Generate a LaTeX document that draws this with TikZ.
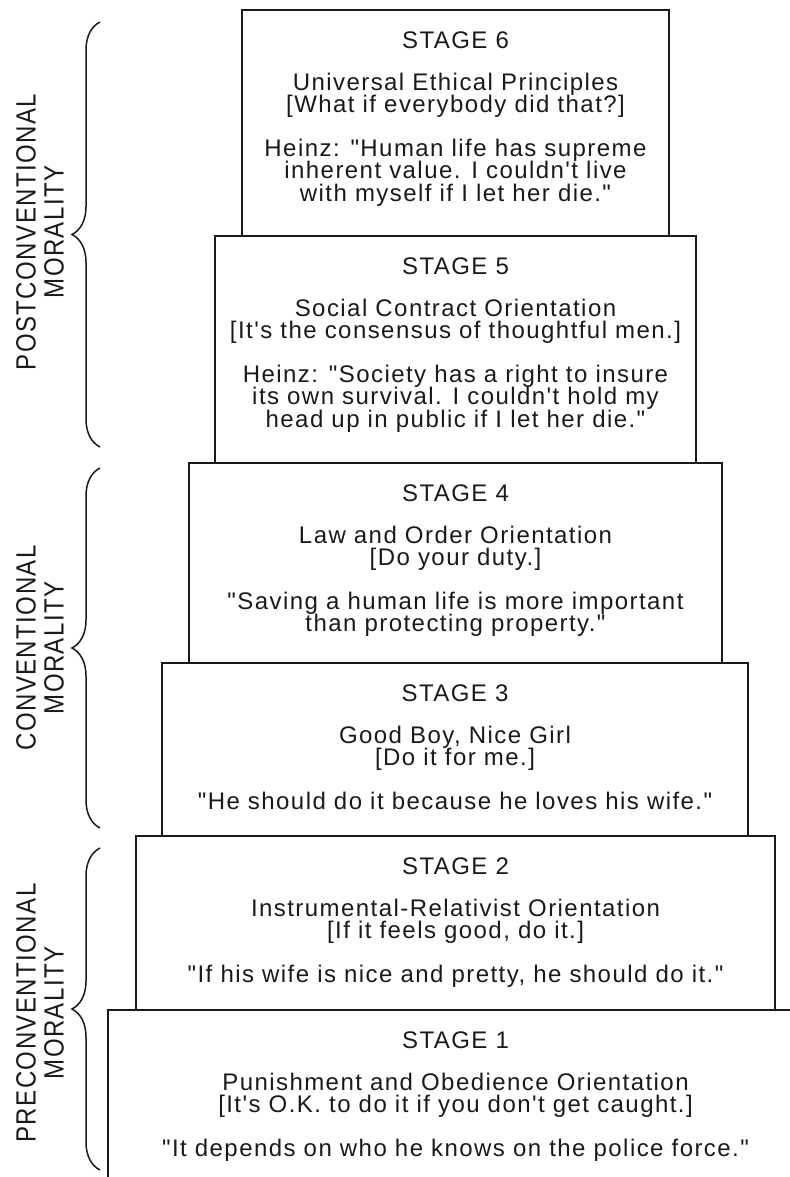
\documentclass[tikz,border=0pt]{standalone}
\usepackage{fontspec}
\usetikzlibrary{positioning,decorations.pathreplacing}
\newfontfamily\stagefont{Liberation Sans}[LetterSpace=6,Ligatures=TeXOff]
\definecolor{ink}{HTML}{1A1A1A}
\setlength{\lineskiplimit}{-5pt}

\begin{document}
\begin{tikzpicture}[x=0.5pt, y=-0.5pt, ink, line width=1.1pt,
  stagebox/.style={draw=ink, anchor=north, inner sep=0pt},
  stagetext/.style={align=center, inner sep=0pt,
                    font=\stagefont\fontsize{12pt}{11.25pt}\selectfont},
  grouplabel/.style={align=center, inner sep=0pt, rotate=90, yscale=1.16,
                     font=\stagefont\fontsize{12pt}{12pt}\selectfont},
  levelbrace/.style={decorate, decoration={brace, amplitude=14pt}, line width=0.75pt}]
\useasboundingbox (0,0) rectangle (790,1177);
\clip (0,0) rectangle (790,1177);
% ---------- the six stages, bottom up
\node[stagebox, minimum width=347.5pt, minimum height=100pt] (s1) at (455.5,1009) {};
\node[stagebox, minimum width=319.5pt, minimum height=87pt] (s2) at (455.5,835) {};
\node[stagebox, minimum width=293pt, minimum height=86.5pt] (s3) at (455,662) {};
\node[stagebox, minimum width=266.5pt, minimum height=100pt] (s4) at (455.5,462) {};
\node[stagebox, minimum width=240.5pt, minimum height=113.5pt] (s5) at (455.5,235) {};
\node[stagebox, minimum width=213.5pt, minimum height=113pt] (s6) at (455.5,9) {};
% ---------- texts
\node[stagetext, below=11pt of s1.north] (t1) {STAGE 1\\[9.5pt]
  Punishment and Obedience Orientation\\ {[}It's O.K. to do it if you don't get caught.]\\[10.5pt]
  "It depends on who he knows on the police force."};
\node[stagetext, below=11pt of s2.north] (t2) {STAGE 2\\[9.5pt]
  Instrumental-Relativist Orientation\\ {[}If it feels good, do it.]\\[10.5pt]
  "If his wife is nice and pretty, he should do it."};
\node[stagetext, below=11pt of s3.north] (t3) {STAGE 3\\[9.5pt]
  Good Boy, Nice Girl\\ {[}Do it for me.]\\[10.5pt]
  "He should do it because he loves his wife."};
\node[stagetext, below=11pt of s4.north] (t4) {STAGE 4\\[9.5pt]
  Law and Order Orientation\\ {[}Do your duty.]\\[10.5pt]
  "Saving a human life is more important\\ than protecting property."};
\node[stagetext, below=11pt of s5.north] (t5) {STAGE 5\\[9.5pt]
  Social Contract Orientation\\ {[}It's the consensus of thoughtful men.]\\[10.5pt]
  Heinz: "Society has a right to insure\\ its own survival. I couldn't hold my\\ head up in public if I let her die."};
\node[stagetext, below=11pt of s6.north] (t6) {STAGE 6\\[9.5pt]
  Universal Ethical Principles\\ {[}What if everybody did that?]\\[10.5pt]
  Heinz: "Human life has supreme\\ inherent value. I couldn't live\\ with myself if I let her die."};
% ---------- braces and level labels
\draw[levelbrace] (100,447) -- (100,22);
\draw[levelbrace] (100,828) -- (100,468);
\draw[levelbrace] (100,1170) -- (100,848);
\node[grouplabel] (post) at (40,232) {POSTCONVENTIONAL\\MORALITY};
\node[grouplabel] (conv) at (40,648) {CONVENTIONAL\\MORALITY};
\node[grouplabel] (pre) at (40,1013) {PRECONVENTIONAL\\MORALITY};
\end{tikzpicture}
\end{document}
